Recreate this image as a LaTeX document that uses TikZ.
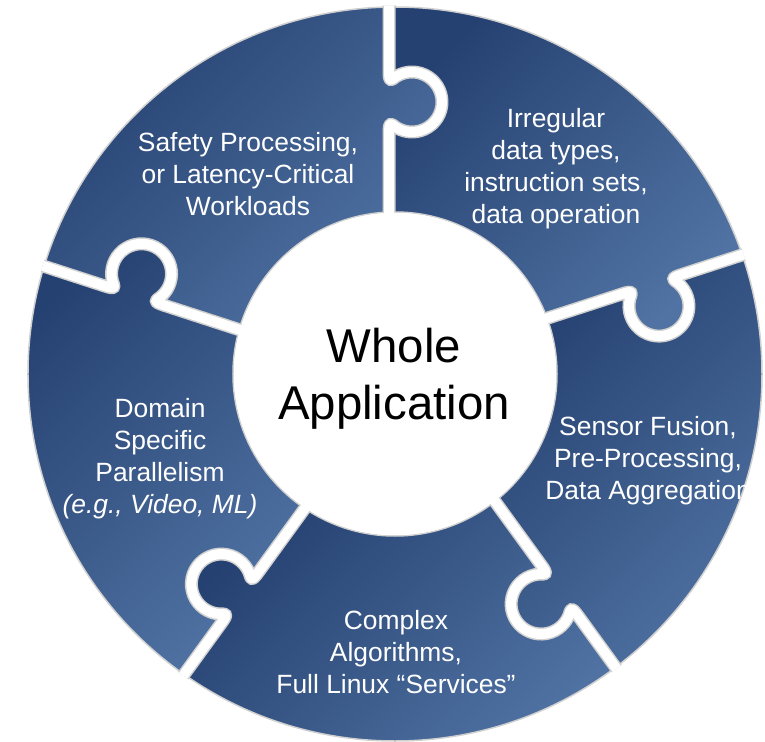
\documentclass[tikz,border=0pt]{standalone}
\usepackage{fontspec}
\setmainfont{Liberation Sans}
\definecolor{pdark}{RGB}{37,65,113}
\definecolor{plight}{RGB}{80,115,163}
\definecolor{rim}{RGB}{208,208,208}

% tab of a seam, walked from the hub outwards
\newcommand\knobout[1]{-- (g#1a) .. controls (g#1a1) and (g#1a2) .. (g#1h1)
  .. controls (g#1c1) and (g#1d1) .. (g#1h2)
  .. controls (g#1c2) and (g#1d2) .. (g#1h3)
  .. controls (g#1c3) and (g#1d3) .. (g#1h4)
  .. controls (g#1c4) and (g#1d4) .. (g#1h5)
  .. controls (g#1e1) and (g#1e2) .. (g#1e)}
% the same tab, walked inwards
\newcommand\knobin[1]{-- (g#1e) .. controls (g#1e2) and (g#1e1) .. (g#1h5)
  .. controls (g#1d4) and (g#1c4) .. (g#1h4)
  .. controls (g#1d3) and (g#1c3) .. (g#1h3)
  .. controls (g#1d2) and (g#1c2) .. (g#1h2)
  .. controls (g#1d1) and (g#1c1) .. (g#1h1)
  .. controls (g#1a2) and (g#1a1) .. (g#1a)}

\begin{document}
\begin{tikzpicture}[x=1pt,y=1pt,
  lbl/.style={text=white, align=center, inner sep=0pt, font=\fontsize{26.4}{32}\selectfont},
  hub/.style={text=black, align=center, inner sep=0pt, font=\fontsize{47.4}{57}\selectfont},
  piece/.style={top color=pdark, middle color=pdark!85!plight, bottom color=plight, shading angle=45},
  gapedge/.style={draw=rim, line width=13pt, line join=round},
  gapfill/.style={draw=white, line width=10pt, line join=round}]
\useasboundingbox (-395,-367) rectangle (370,374);

% seam points, one seam every 72 degrees, each with a tab
\foreach \k/\a in {1/90,2/18,3/-54,4/-126,5/162}{
  \begin{scope}[rotate=\a]
    \coordinate (g\k I) at (150,6);
    \coordinate (g\k i) at (161.9,6);
    \coordinate (g\k o) at (366.95,6);
    \coordinate (g\k O) at (385,6);
    \coordinate (g\k a) at (240,6);
    \coordinate (g\k a1) at (246,6);
    \coordinate (g\k a2) at (252.2,6);
    \coordinate (g\k h1) at (249.02,2.28);
    \coordinate (g\k c1) at (241.53,-6.65);
    \coordinate (g\k d1) at (239.88,-19.11);
    \coordinate (g\k h2) at (244.81,-29.68);
    \coordinate (g\k c2) at (249.74,-40.25);
    \coordinate (g\k d2) at (260.34,-47);
    \coordinate (g\k h3) at (272,-47);
    \coordinate (g\k c3) at (283.66,-47);
    \coordinate (g\k d3) at (294.26,-40.25);
    \coordinate (g\k h4) at (299.19,-29.68);
    \coordinate (g\k c4) at (304.12,-19.11);
    \coordinate (g\k d4) at (302.47,-6.65);
    \coordinate (g\k h5) at (294.98,2.28);
    \coordinate (g\k e1) at (291.8,6);
    \coordinate (g\k e2) at (298,6);
    \coordinate (g\k e) at (304,6);
  \end{scope}
}

% the five pieces
\foreach \cw/\ccw/\ang in {1/5/90,2/1/18,3/2/-54,4/3/-126,5/4/-198}{
  \shade[piece] (g\cw o) \knobin{\cw} -- (g\cw i)
    arc[start angle=\ang+2.121, end angle=\ang+74.121, radius=162]
    -- (g\ccw i) \knobout{\ccw} -- (g\ccw o)
    arc[start angle=\ang+72.937, end angle=\ang+0.937, radius=367] -- cycle;
}

\draw[rim, line width=1.5pt] (0,0) circle[radius=367];
\draw[rim, line width=1.5pt] (0,0) circle[radius=162];

% white seams between the pieces
\begin{scope}
  \clip (0,0) circle[radius=368.5];
  \foreach \k in {1,...,5}{\path[gapedge] (g\k I) \knobout{\k} -- (g\k O);}
  \foreach \k in {1,...,5}{\path[gapfill] (g\k I) \knobout{\k} -- (g\k O);}
\end{scope}
\fill[white] (0,0) circle[radius=161.2];

\node[hub] (whole) at (-1,-6) {\strut Whole\\Application\strut};
\node[lbl] (safety) at (-147,197) {\strut Safety Processing,\\or Latency-Critical\\Workloads\strut};
\node[lbl] (irregular) at (161,205) {\strut Irregular\\data types,\\instruction sets,\\data operation\strut};
\node[lbl] (sensor) at (253,-87) {\strut Sensor Fusion,\\Pre-Processing,\\Data Aggregation\strut};
\node[lbl] (complex) at (1,-281) {\strut Complex\\Algorithms,\\Full Linux “Services”\strut};
\node[lbl] (domain) at (-235,-85.5) {\strut Domain\\Specific\\Parallelism\\\textit{(e.g., Video, ML)}\strut};
\end{tikzpicture}
\end{document}
